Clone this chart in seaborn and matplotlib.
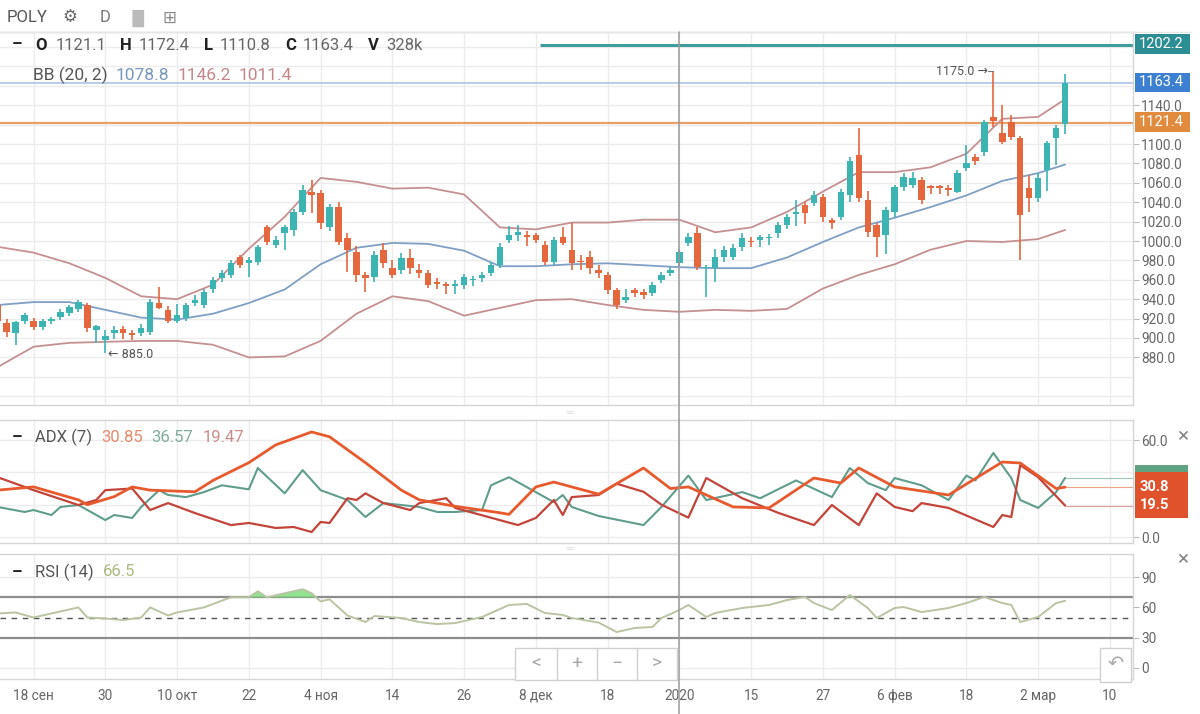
import matplotlib
matplotlib.use("Agg")
import matplotlib.pyplot as plt
import matplotlib.transforms as mtransforms
from matplotlib.lines import Line2D
from matplotlib.patches import Rectangle
import numpy as np
import seaborn as sns

# ---------------- data ----------------
opens = [934, 915, 905, 917, 918, 911, 918, 922, 926, 930,
         934, 908, 898, 905, 909, 905, 905, 906, 936, 929,
         918, 921, 936, 934, 950, 962, 965, 983, 977, 978,
         1014, 996, 1008, 1011, 1030, 1051, 1049, 1014, 1035, 1003,
         989, 965, 963, 991, 972, 970, 982, 970, 967, 958,
         955, 954, 955, 960, 962, 967, 975, 1001, 1006, 1006,
         1006, 996, 978, 1004, 991, 979, 984, 970, 965, 949,
         939, 949, 947, 946, 960, 967, 977, 998, 1008, 972,
         972, 983, 983, 994, 1000, 1001, 1003, 1008, 1016, 1028,
         1037, 1039, 1045, 1022, 1025, 1047, 1089, 1042, 1016, 1006,
         1030, 1056, 1058, 1063, 1056, 1056, 1055, 1051, 1075, 1087,
         1092, 1128, 1111, 1123, 1106, 1055, 1044, 1073, 1106, 1121.1]
highs = [938, 920, 918, 926, 921, 920, 922, 930, 934, 939,
         936, 913, 908, 912, 912, 908, 914, 940, 953, 933,
         935, 936, 944, 950, 963, 970, 980, 986, 983, 996,
         1017, 1005, 1017, 1033, 1058, 1063, 1053, 1038, 1040, 1008,
         995, 968, 990, 998, 980, 988, 992, 976, 970, 962,
         958, 960, 966, 964, 968, 978, 998, 1015, 1016, 1010,
         1008, 1000, 1004, 1014, 1019, 986, 990, 975, 968, 952,
         950, 952, 950, 958, 968, 973, 992, 1008, 1014, 975,
         992, 995, 997, 1008, 1004, 1006, 1007, 1020, 1028, 1042,
         1040, 1052, 1048, 1024, 1054, 1087, 1117, 1052, 1019, 1035,
         1058, 1070, 1071, 1066, 1058, 1058, 1058, 1073, 1099, 1090,
         1125, 1175, 1140, 1130, 1108, 1068, 1070, 1103, 1120, 1172.4]
lows = [912, 901, 893, 914, 908, 908, 914, 919, 923, 927,
        906, 895, 885, 899, 899, 898, 902, 903, 930, 915,
        915, 917, 933, 931, 946, 958, 962, 972, 963, 975,
        996, 993, 991, 1005, 1027, 1029, 1012, 1010, 996, 968,
        958, 947, 958, 972, 962, 966, 966, 962, 952, 950,
        945, 945, 950, 954, 958, 964, 972, 998, 1000, 995,
        998, 975, 975, 996, 970, 970, 966, 962, 945, 930,
        936, 942, 940, 943, 957, 964, 974, 995, 970, 942,
        958, 978, 980, 990, 994, 994, 996, 1003, 1012, 1015,
        1018, 1036, 1020, 1012, 1022, 1040, 1040, 1004, 984, 987,
        1025, 1052, 1055, 1038, 1048, 1048, 1046, 1049, 1072, 1078,
        1088, 1118, 1100, 1104, 980, 1030, 1040, 1052, 1078, 1110.8]
closes = [917, 906, 916, 924, 911, 918, 919, 927, 932, 937,
          910, 912, 902, 908, 905, 903, 910, 937, 931, 918,
          924, 934, 939, 947, 960, 967, 977, 975, 980, 994,
          999, 1001, 1014, 1030, 1053, 1047, 1019, 1035, 999, 991,
          965, 962, 986, 977, 965, 982, 972, 967, 955, 956,
          954, 956, 963, 960.5, 965, 975, 994, 1006, 1009, 1004,
          1001, 978, 1001, 998, 977, 978, 972, 967, 949, 934,
          942, 946, 944, 955, 965, 970, 989, 1004, 973, 972.5,
          984, 991, 993, 1003, 999, 1004, 1004, 1016, 1025, 1030,
          1029, 1047, 1025, 1019, 1051, 1083, 1044, 1009, 1004, 1032,
          1056, 1066, 1065, 1042, 1055, 1055, 1053, 1070, 1080, 1083,
          1123, 1124, 1102, 1107, 1027, 1044, 1065, 1101, 1117, 1163.4]

tick_labels = ["18 сен", "30", "10 окт", "22", "4 ноя", "14", "26", "8 дек",
               "18", "2020", "15", "27", "6 фев", "18", "2 мар", "10"]

bb_x = [0, 4, 8, 12, 16, 20, 24, 28, 32, 36, 40, 44, 48, 52, 56, 60, 64, 68,
        72, 76, 80, 84, 88, 92, 96, 100, 104, 108, 112, 116, 119]
bb_upper = [994, 988, 977, 962, 943, 940, 955, 992, 1025, 1065, 1061, 1054, 1055,
            1048, 1014, 1012, 1019, 1019, 1022, 1022, 1009, 1014, 1030, 1051, 1071,
            1071, 1076, 1090, 1126, 1128, 1146.2]
bb_mid = [934, 937, 937, 929, 921, 919, 925, 936, 950, 976, 993, 998, 997, 990, 974,
          974, 976, 977, 975, 973, 972, 972, 983, 999, 1014, 1024, 1035, 1047, 1062,
          1070, 1078.8]
bb_lower = [870, 891, 895, 896, 897, 897, 893, 880, 881, 897, 925, 943, 938, 923, 931,
            939, 940, 934, 929, 927, 929, 928, 930, 951, 965, 976, 991, 1000, 999,
            1002, 1011.4]

adx_x = [0, 4, 9, 10, 13, 15, 17, 22, 24, 28, 31, 35, 37, 41, 45, 47, 51, 56, 57,
         60, 62, 67, 72, 75, 77, 82, 86, 91, 94, 96, 100, 106, 112, 114, 118, 119]
adx_v = [29, 31, 23, 20, 25, 31, 29, 28, 35, 46, 57, 65, 62, 46, 29, 23, 19, 15, 14,
         31, 34, 26.5, 42.7, 30, 31, 18.6, 18, 36.5, 33.4, 42.7, 31, 26, 46.4, 45.8,
         30, 30.85]

pdi_x = [0, 3, 4, 6, 7, 9, 12, 13, 15, 16, 18, 19, 21, 23, 25, 28, 29, 32, 34, 36,
         39, 41, 43, 47, 49, 51, 54, 55, 57, 62, 63, 64, 67, 72, 74, 77, 79, 83, 85,
         89, 93, 95, 97, 99, 100, 103, 106, 108, 109, 111, 113, 114, 116, 118, 119]
pdi_v = [18.6, 15.5, 16.7, 13.6, 18.6, 19.8, 10.5, 13.6, 11.8, 18.6, 29, 26, 24.7,
         27.8, 32, 29.5, 42.7, 27, 41.4, 29, 22.9, 12.4, 21, 18.6, 15.5, 15.5, 16.7,
         32, 37, 21.6, 26, 18.6, 13, 7.4, 18.6, 38, 22.9, 27.8, 24, 35, 24.7, 42.7,
         33.4, 29, 36.5, 32, 22.9, 38, 35, 52, 36.5, 22.9, 18, 27.8, 36.57]

mdi_x = [0, 4, 9, 11, 12, 15, 17, 19, 22, 26, 28, 31, 33, 35, 36, 37, 39, 40, 41,
         43, 46, 47, 50, 51, 58, 60, 62, 63, 64, 67, 69, 72, 74, 77, 79, 83, 87, 91,
         93, 96, 98, 100, 102, 103, 106, 111, 112, 113, 114, 116, 119]
mdi_v = [37, 29, 19.8, 22.9, 29, 30, 16.7, 21, 14.8, 7.4, 8.7, 5.6, 6.2, 3.1, 9.3,
         8.7, 24, 22.9, 27, 21, 16.7, 21, 24, 18, 7.4, 11.8, 22.9, 13.6, 24.7, 26,
         33, 28, 20, 12, 36.5, 24, 15, 7.4, 19.8, 7.4, 27, 18.6, 16, 21, 18, 6.2,
         13.6, 12.4, 44.5, 37, 19.47]

rsi_x = [0, 2, 4, 6, 9, 10, 12, 14, 16, 17, 19, 20, 23, 26, 28, 29, 30, 32, 34, 35,
         36, 37, 38, 39, 41, 42, 45, 47, 49, 51, 54, 57, 59, 61, 63, 64, 67, 69, 71,
         73, 74, 76, 77, 79, 80, 83, 86, 88, 90, 91, 93, 95, 97, 98, 100, 101, 103,
         106, 108, 110, 112, 113, 114, 116, 118, 119]
rsi_v = [54, 55, 50, 54, 60, 50, 49, 47.5, 50, 60, 52, 55, 60, 70, 70, 76, 70, 74,
         78, 74, 66, 68, 60, 52, 45.5, 51.5, 49.5, 45.5, 43.5, 44.5, 50.5, 62.4, 63.4,
         54.5, 52.5, 49.5, 45, 35.6, 39.6, 40.6, 49.5, 57.4, 62.4, 50.5, 54.5, 59.4,
         62.4, 67.3, 70.3, 64.3, 57.4, 72.3, 59.4, 49.5, 59.4, 60.4, 55.4, 59.4, 64.3,
         70.3, 64.3, 62.4, 45.5, 50.5, 64.3, 66.5]

last_open, last_high, last_low, last_close, last_vol = "1121.1", "1172.4", "1110.8", "1163.4", "328k"
bb_vals = ["1078.8", "1146.2", "1011.4"]
adx_vals = ["30.85", "36.57", "19.47"]
adx_box_labels = ["30.8", "19.5"]
rsi_val = "66.5"
level_teal, level_blue, level_orange = 1202.2, 1163.4, 1121.4
hi_mark, lo_mark = 1175.0, 885.0

# ---------------- style ----------------
sns.set_theme(style="white")
plt.rcParams["font.family"] = ["Roboto", "DejaVu Sans"]

W, H = 1200, 714
fig = plt.figure(figsize=(W / 100, H / 100), dpi=100)


def rect(x0, y0, x1, y1):
    return [x0 / W, 1 - y1 / H, (x1 - x0) / W, (y1 - y0) / H]


UP, DOWN = "#3bb4b2", "#e5673d"
GRID = "#ececec"
SPINE = "#d6d6d6"
TXT = "#666666"

ax = fig.add_axes(rect(0, 32, 1133, 405))
ax_adx = fig.add_axes(rect(0, 420, 1133, 543), sharex=ax)
ax_rsi = fig.add_axes(rect(0, 554, 1133, 679), sharex=ax)

n = len(closes)
idx = np.arange(n)
tick_pos = [4 + 8 * i for i in range(len(tick_labels))]

for a in (ax, ax_adx, ax_rsi):
    for s in a.spines.values():
        s.set_color(SPINE)
        s.set_linewidth(1)
    a.spines["left"].set_visible(False)
    a.yaxis.tick_right()
    a.tick_params(axis="y", length=4, width=0.8, color="#bbbbbb", labelsize=9.8,
                  labelcolor=TXT, pad=2, direction="out")
    a.tick_params(axis="x", length=0, labelbottom=False)
    for tp in tick_pos:
        a.axvline(tp, color=GRID, lw=1, zorder=0)

ax.set_xlim(0.26, 126.57)

# ---- main price panel ----
ax.set_ylim(830.9, 1215.5)
for lv in range(840, 1220, 20):
    ax.axhline(lv, color=GRID, lw=1, zorder=0)
ax.set_yticks([t for t in range(880, 1160, 20) if t != 1120])
ax.set_yticklabels([f"{t:.1f}" for t in range(880, 1160, 20) if t != 1120])

sns.lineplot(x=bb_x, y=bb_upper, ax=ax, color="#c49092", lw=1.3, zorder=2)
sns.lineplot(x=bb_x, y=bb_lower, ax=ax, color="#c49092", lw=1.3, zorder=2)
sns.lineplot(x=bb_x, y=bb_mid, ax=ax, color="#7f9fc4", lw=1.3, zorder=2)

ax.axhline(level_blue, color="#aec4ea", lw=1.2, zorder=1)
ax.axhline(level_orange, color="#e9a066", lw=1.6, zorder=1)
ax.hlines(level_teal, 60.5, 126.57, color="#3f9e9b", lw=2.2, zorder=1)

o = np.array(opens, float)
c = np.array(closes, float)
h = np.array(highs, float)
l = np.array(lows, float)
cols = [UP if cc >= oo else DOWN for oo, cc in zip(o, c)]
ax.vlines(idx, l, h, colors=cols, lw=1.2, zorder=3)
body_lo = np.minimum(o, c)
body_h = np.maximum(np.abs(c - o), 1.2)
ax.bar(idx, body_h, bottom=body_lo, width=0.72, color=cols, zorder=4, linewidth=0)

imax = int(np.argmax(h))
imin = int(np.argmin(l))
ax.annotate(f"{hi_mark:.1f} \u2192", xy=(imax - 0.6, hi_mark), ha="right", va="center",
            fontsize=9, color="#555555")
ax.plot([imax - 0.6, imax], [hi_mark, hi_mark], color="#777777", lw=0.8, zorder=5)
ax.annotate(f"\u2190 {lo_mark:.1f}", xy=(imin + 0.3, lo_mark - 2), ha="left", va="center",
            fontsize=9, color="#555555")

# ---- ADX panel ----
ax_adx.set_ylim(-3.7, 72.4)
for lv in (0, 20, 40, 60):
    ax_adx.axhline(lv, color=GRID, lw=1, zorder=0)
ax_adx.set_yticks([0, 60])
ax_adx.set_yticklabels(["0.0", "60.0"])
sns.lineplot(x=pdi_x, y=pdi_v, ax=ax_adx, color="#5f9d8c", lw=1.5, zorder=3)
sns.lineplot(x=mdi_x, y=mdi_v, ax=ax_adx, color="#c2443a", lw=1.6, zorder=3)
sns.lineplot(x=adx_x, y=adx_v, ax=ax_adx, color="#e65a2e", lw=2.0, zorder=4)
ax_adx.hlines(pdi_v[-1], pdi_x[-1], 126.57, color="#9cc4b8", lw=0.8)
ax_adx.hlines(adx_v[-1], adx_x[-1], 126.57, color="#efa48a", lw=0.8)
ax_adx.hlines(mdi_v[-1], mdi_x[-1], 126.57, color="#dca19a", lw=0.8)

# ---- RSI panel ----
ax_rsi.set_ylim(-10.9, 112.9)
for lv in (0, 90):
    ax_rsi.axhline(lv, color=GRID, lw=1, zorder=0)
ax_rsi.set_yticks([0, 30, 60, 90])
ax_rsi.set_yticklabels(["0", "30", "60", "90"])
ax_rsi.axhline(70, color="#8d8d8d", lw=1.6, zorder=2)
ax_rsi.axhline(30, color="#8d8d8d", lw=1.6, zorder=2)
ax_rsi.axhline(50, color="#555555", lw=1.0, ls=(0, (4, 4)), zorder=2)
rx = np.array(rsi_x, float)
rv = np.array(rsi_v, float)
ax_rsi.fill_between(rx, 70, rv, where=rv > 70, interpolate=True, color="#7fe07f",
                    alpha=0.85, zorder=3, lw=0)
sns.lineplot(x=rsi_x, y=rsi_v, ax=ax_rsi, color="#b9c4a2", lw=1.4, zorder=4)

ax_rsi.set_xticks(tick_pos)
ax_rsi.set_xticklabels(tick_labels)
ax_rsi.tick_params(axis="x", labelbottom=True, length=3, color="#bbbbbb", labelsize=9.8,
                   labelcolor=TXT, pad=4)

for a in (ax, ax_adx, ax_rsi):
    a.set_xlabel("")
    a.set_ylabel("")
    leg = a.get_legend()
    if leg:
        leg.remove()

# crosshair at 2020
blend = mtransforms.blended_transform_factory(ax.transData, fig.transFigure)
fig.add_artist(Line2D([76, 76], [0, 1 - 32 / H], transform=blend, color="#9a9a9a", lw=1.1,
                      zorder=6))

# ---------------- texts / overlays ----------------
renderer = fig.canvas.get_renderer()


def chain(x, y, pieces, size):
    for txt, color, weight, gap in pieces:
        t = fig.text(x / W, 1 - y / H, txt, color=color, fontsize=size, fontweight=weight,
                     ha="left", va="center", zorder=10)
        bb = t.get_window_extent(renderer=renderer)
        x += bb.width + gap


def box(x0, y0, x1, y1, color):
    fig.add_artist(Rectangle((x0 / W, 1 - y1 / H), (x1 - x0) / W, (y1 - y0) / H,
                             transform=fig.transFigure, facecolor=color, edgecolor="none",
                             zorder=8))


chain(7, 18, [("POLY", "#555555", "normal", 15), ("\u2699", "#666666", "normal", 22),
              ("D", "#777777", "normal", 15), ("\u2590\u258c", "#bbbbbb", "normal", 11),
              ("\u229e", "#888888", "normal", 0)], 12)

for yc in (45, 437, 572):
    fig.text(12 / W, 1 - yc / H, "\u2013", color="#222222", fontsize=12, fontweight="bold",
             ha="left", va="center", zorder=10)

chain(35, 45, [("O", "#222222", "bold", 9),
               (last_open, TXT, "normal", 14), ("H", "#222222", "bold", 7),
               (last_high, TXT, "normal", 14), ("L", "#222222", "bold", 7),
               (last_low, TXT, "normal", 14), ("C", "#222222", "bold", 7),
               (last_close, TXT, "normal", 14), ("V", "#222222", "bold", 8),
               (last_vol, TXT, "normal", 0)], 12)

chain(33, 75, [("BB (20, 2)", "#555555", "normal", 8), (bb_vals[0], "#7896bb", "normal", 8),
               (bb_vals[1], "#c4868a", "normal", 8), (bb_vals[2], "#c4868a", "normal", 0)], 12.5)

chain(35, 437, [("ADX (7)", "#555555", "normal", 9),
                (adx_vals[0], "#e98a6c", "normal", 9), (adx_vals[1], "#82ac9e", "normal", 9),
                (adx_vals[2], "#c98c8c", "normal", 0)], 12)

chain(35, 572, [("RSI (14)", "#555555", "normal", 9),
                (rsi_val, "#a9ba7e", "normal", 0)], 12)

# price label boxes
for yc, col, val in ((44, "#2c8d92", level_teal), (82.5, "#3d7fd0", level_blue),
                     (122, "#e08b3d", level_orange)):
    box(1135, yc - 9.5, 1190, yc + 9.5, col)
    fig.text(1139 / W, 1 - yc / H, f"{val:.1f}", color="white", fontsize=10.5, ha="left",
             va="center", zorder=9)

box(1135, 465, 1188, 478, "#5fa383")
box(1135, 472, 1188, 518, "#e0522c")
fig.text(1140 / W, 1 - 487 / H, adx_box_labels[0], color="white", fontsize=10.5,
         fontweight="bold", ha="left", va="center", zorder=9)
fig.text(1140 / W, 1 - 505 / H, adx_box_labels[1], color="white", fontsize=10.5,
         fontweight="bold", ha="left", va="center", zorder=9)

for yc in (437, 560):
    fig.text(1183 / W, 1 - yc / H, "\u00d7", color="#888888", fontsize=15, ha="center",
             va="center", zorder=9)

for yc in (412, 548):
    fig.text(570 / W, 1 - yc / H, "\u2550", color="#dddddd", fontsize=8, ha="center",
             va="center", zorder=9)

# navigation buttons
fig.add_artist(Rectangle((515 / W, 1 - 680 / H), 162 / W, 32 / H, transform=fig.transFigure,
                         facecolor="white", edgecolor="#d0d0d0", lw=1, zorder=7))
for xs in (557, 597, 637):
    fig.add_artist(Line2D([xs / W, xs / W], [1 - 680 / H, 1 - 648 / H],
                          transform=fig.transFigure, color="#d0d0d0", lw=1, zorder=7))
for xc, sym in ((536, "<"), (577, "+"), (617, "\u2212"), (657, ">")):
    fig.text(xc / W, 1 - 664 / H, sym, color="#aaaaaa", fontsize=14, ha="center",
             va="center", zorder=9)
fig.add_artist(Rectangle((1100 / W, 1 - 682 / H), 31 / W, 34 / H, transform=fig.transFigure,
                         facecolor="white", edgecolor="#d0d0d0", lw=1, zorder=7))
fig.text(1115.5 / W, 1 - 664 / H, "\u21b6", color="#aaaaaa", fontsize=14, ha="center",
         va="center", zorder=9)

# thin top line
fig.add_artist(Line2D([0, 1190 / W], [1 - 32 / H, 1 - 32 / H], transform=fig.transFigure,
                      color="#e6e6e6", lw=1, zorder=1))

fig.savefig("out.png", dpi=100)
